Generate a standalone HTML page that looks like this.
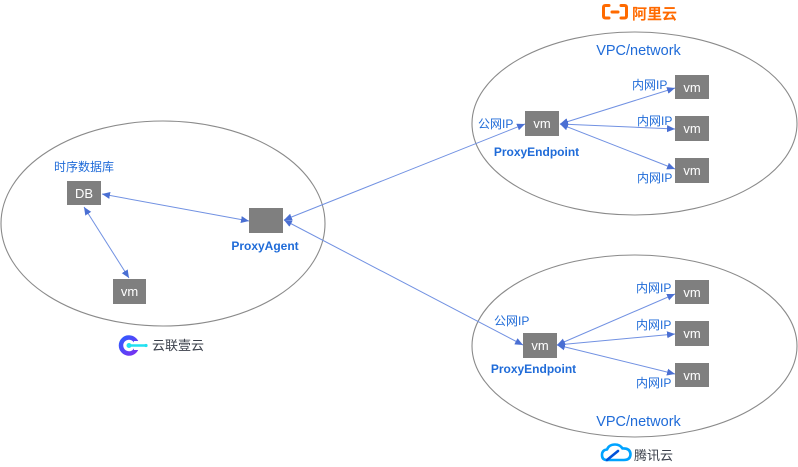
<!DOCTYPE html>
<html><head><meta charset="utf-8"><style>
html,body{margin:0;padding:0;background:#fff;}
svg{display:block;}
text{font-family:"Liberation Sans","Noto Sans CJK SC",sans-serif;}
</style></head><body>
<svg width="798" height="467" viewBox="0 0 798 467" xmlns="http://www.w3.org/2000/svg">
<defs>
<marker id="ah" markerUnits="userSpaceOnUse" markerWidth="9" markerHeight="8" refX="8" refY="3.5" orient="auto-start-reverse">
<path d="M0,0 L8,3.5 L0,7 z" fill="#4a6fd3"/>
</marker>
<linearGradient id="yg" x1="0" y1="0" x2="1" y2="1">
<stop offset="0" stop-color="#2f5bff"/><stop offset="1" stop-color="#7b2ff0"/>
</linearGradient>
</defs>
<!-- ellipses -->
<ellipse cx="163" cy="223.5" rx="162" ry="102.5" fill="none" stroke="#8a8a8a" stroke-width="1.1"/>
<ellipse cx="634.5" cy="123.5" rx="162.5" ry="91.5" fill="none" stroke="#8a8a8a" stroke-width="1.1"/>
<ellipse cx="634.5" cy="346" rx="162.5" ry="91" fill="none" stroke="#8a8a8a" stroke-width="1.1"/>

<!-- connectors -->
<g stroke="#7191e2" stroke-width="1" fill="none" marker-start="url(#ah)" marker-end="url(#ah)">
<line x1="102" y1="194" x2="249" y2="221"/>
<line x1="84" y1="207" x2="129" y2="278"/>
<line x1="284" y1="220" x2="525" y2="124"/>
<line x1="284" y1="220" x2="523" y2="345"/>
<line x1="560" y1="124" x2="675" y2="88"/>
<line x1="560" y1="124" x2="675" y2="129"/>
<line x1="560" y1="124" x2="675" y2="169"/>
<line x1="557" y1="345" x2="675" y2="294"/>
<line x1="557" y1="345" x2="675" y2="334"/>
<line x1="557" y1="345" x2="675" y2="374"/>
</g>

<!-- boxes -->
<g fill="#7f7f7f">
<rect x="67" y="181" width="34" height="24"/>
<rect x="113" y="279" width="33" height="25"/>
<rect x="249" y="208" width="34" height="25"/>
<rect x="525" y="111" width="34" height="25"/>
<rect x="675" y="75" width="34" height="24"/>
<rect x="675" y="116" width="34" height="25"/>
<rect x="675" y="158" width="34" height="25"/>
<rect x="523" y="333" width="34" height="25"/>
<rect x="675" y="280" width="34" height="24"/>
<rect x="675" y="321" width="34" height="25"/>
<rect x="675" y="363" width="34" height="24"/>
</g>
<g fill="#ffffff" font-size="13" text-anchor="middle">
<text x="84" y="198">DB</text>
<text x="129.5" y="296">vm</text>
<text x="542" y="128">vm</text>
<text x="692" y="92">vm</text>
<text x="692" y="133">vm</text>
<text x="692" y="175">vm</text>
<text x="540" y="350">vm</text>
<text x="692" y="297">vm</text>
<text x="692" y="338">vm</text>
<text x="692" y="380">vm</text>
</g>

<!-- labels -->
<g fill="#1f6bd8" font-size="12">
<text x="54" y="171">时序数据库</text>
<text x="478" y="128">公网IP</text>
<text x="494" y="325">公网IP</text>
<text x="632" y="89">内网IP</text>
<text x="637" y="125">内网IP</text>
<text x="637" y="182">内网IP</text>
<text x="636" y="292">内网IP</text>
<text x="636" y="329">内网IP</text>
<text x="636" y="387">内网IP</text>
</g>
<g fill="#1f6bd8" font-size="12" font-weight="bold" text-anchor="middle">
<text x="265" y="250">ProxyAgent</text>
<text x="536.5" y="156">ProxyEndpoint</text>
<text x="533.5" y="373">ProxyEndpoint</text>
</g>
<g fill="#1f6bd8" font-size="14.5" text-anchor="middle">
<text x="638.5" y="55">VPC/network</text>
<text x="638.5" y="426">VPC/network</text>
</g>

<!-- Aliyun logo -->
<g stroke="#ff6a00" stroke-width="3" fill="none" stroke-linecap="round">
<path d="M609,5.5 L605.5,5.5 Q603.5,5.5 603.5,7.5 L603.5,16 Q603.5,18 605.5,18 L609,18"/>
<path d="M621,5.5 L624.5,5.5 Q626.5,5.5 626.5,7.5 L626.5,16 Q626.5,18 624.5,18 L621,18"/>
<line x1="612" y1="12" x2="618" y2="12"/>
</g>
<text x="632" y="19" font-size="15" font-weight="bold" fill="#ff6a00">阿里云</text>

<!-- Yunlianyi logo -->
<circle cx="129" cy="345.5" r="8" fill="none" stroke="url(#yg)" stroke-width="4.5"/>
<rect x="134" y="341" width="6" height="9" fill="#fff"/>
<line x1="129" y1="345.5" x2="146" y2="345.5" stroke="#22e0f0" stroke-width="2.5"/>
<circle cx="129" cy="345.5" r="2.5" fill="#22e0f0"/>
<circle cx="146" cy="345.5" r="1.6" fill="#22e0f0"/>
<text x="152" y="350" font-size="13" fill="#3a3f4a">云联壹云</text>

<!-- Tencent cloud logo -->
<path d="M607,460 Q602,460 602,455 Q602,450 607,449.5 Q609,444.5 615,444.5 Q620,444.5 622.5,448.5 Q630,448 630.5,454 Q630.5,460 624,460 Z" fill="none" stroke="#00a3ff" stroke-width="2.6" stroke-linejoin="round"/>
<path d="M607,460 L618,451" stroke="#0052d9" stroke-width="2.6" fill="none" stroke-linecap="round"/>
<text x="634" y="460" font-size="13" fill="#3a3f4a">腾讯云</text>
</svg>
</body></html>
